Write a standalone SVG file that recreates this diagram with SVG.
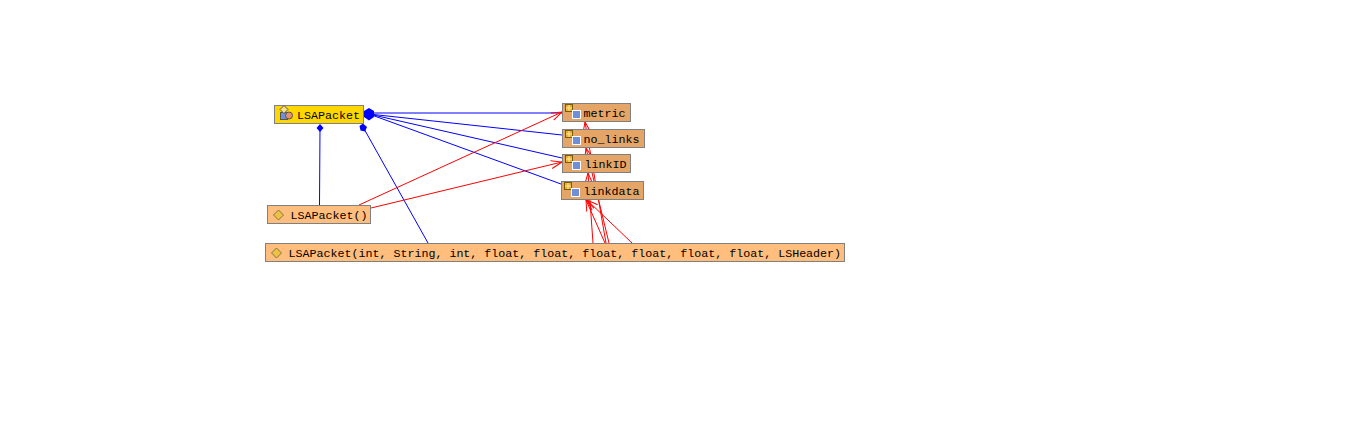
<svg xmlns="http://www.w3.org/2000/svg" width="1345" height="433" viewBox="0 0 1345 433">
<defs>
<marker id="arr" markerUnits="userSpaceOnUse" markerWidth="12" markerHeight="10" refX="11" refY="5" orient="auto"><path d="M0 1L11 5L0 9" fill="none" stroke="#f00" stroke-width="1"/></marker>
<g id="field"><rect x="0.500" y="0.500" width="7" height="7" fill="#e8b030" stroke="#7a5a00" stroke-width="1"/><path d="M1 4H7M4 1V7" stroke="#ffe9a0" stroke-width="1"/><rect x="7.500" y="6.500" width="8" height="8" fill="#6f8fd8" stroke="#fff" stroke-width="1"/></g>
<path id="ctor" d="M0 -5L5 0L0 5L-5 0Z" fill="#f0c040" stroke="#7a7a50" stroke-width="1"/>
</defs>
<style>
.n{stroke:#808080;stroke-width:1}
.m{fill:#e4a566}.c{fill:#ffbd7e}
text{font-family:"Liberation Mono","DejaVu Sans Mono",monospace;font-size:11.67px;fill:#000}
.b{stroke:#0000ff;stroke-width:1;fill:none}
.r{stroke:#f00;stroke-width:1;fill:none;marker-end:url(#arr)}
.d{fill:#0000ff}
</style>
<rect width="1345" height="433" fill="#fff"/>
<g id="connectors">
<path class="b" stroke-width="1.200" d="M369 113H562"/>
<path class="b" d="M369 114L562 135"/>
<path class="b" d="M369 114L562 158"/>
<path class="b" d="M369 114L561 184"/>
<path class="b" d="M320 128L319.500 205"/>
<path class="b" d="M363 127L428 243"/>
<path class="d" d="M369 108L374 111V117L369 120.500L364 117V111Z"/>
<path class="d" d="M320 124L323.500 128L320 132L316.500 128Z"/>
<path class="d" d="M363 123.500L367 127L365 131.500L360.500 130.500L359.500 126Z"/>
<path class="r" d="M359 205L562 112"/>
<path class="r" d="M371 208L562 162"/>
<path class="r" d="M593 243L588 173"/>
<path class="r" d="M606 243L585 122"/>
<path class="r" d="M609 243L586 148"/>
<path class="r" d="M605 243L586 200"/>
<path class="r" d="M632 243L587 200"/>
</g>
<g id="node-LSAPacket"><rect class="n" x="274.500" y="105.500" width="89" height="18" fill="#ffd700"/>
<rect x="280.500" y="112.500" width="7" height="7" fill="#6f8fd8" stroke="#555"/><path d="M284 105.500L288 109.500L284 113.500L280 109.500Z" fill="#f5e090" stroke="#555" stroke-width="1"/><circle cx="289" cy="115.500" r="3.500" fill="#e89070" stroke="#555"/>
<text x="297" y="119">LSAPacket</text></g>
<g id="node-metric"><rect class="n m" x="562.500" y="103.500" width="68" height="18"/><use href="#field" x="565" y="104"/><text x="583.500" y="117">metric</text></g>
<g id="node-no_links"><rect class="n m" x="562.500" y="129.500" width="82" height="18"/><use href="#field" x="565" y="130"/><text x="583.500" y="143">no_links</text></g>
<g id="node-linkID"><rect class="n m" x="562.500" y="154.500" width="68" height="18"/><use href="#field" x="565" y="155"/><text x="584.500" y="168">linkID</text></g>
<g id="node-linkdata"><rect class="n m" x="561.500" y="181.500" width="82" height="18"/><use href="#field" x="564" y="182"/><text x="583.500" y="195">linkdata</text></g>
<g id="node-ctor0"><rect class="n c" x="267.500" y="205.500" width="103" height="18"/><use href="#ctor" x="278.500" y="215"/><text x="290.500" y="219">LSAPacket()</text></g>
<g id="node-ctor1"><rect class="n c" x="265.500" y="243.500" width="579" height="18"/><use href="#ctor" x="276.500" y="253"/><text x="288.500" y="257">LSAPacket(int, String, int, float, float, float, float, float, float, LSHeader)</text></g>
</svg>
